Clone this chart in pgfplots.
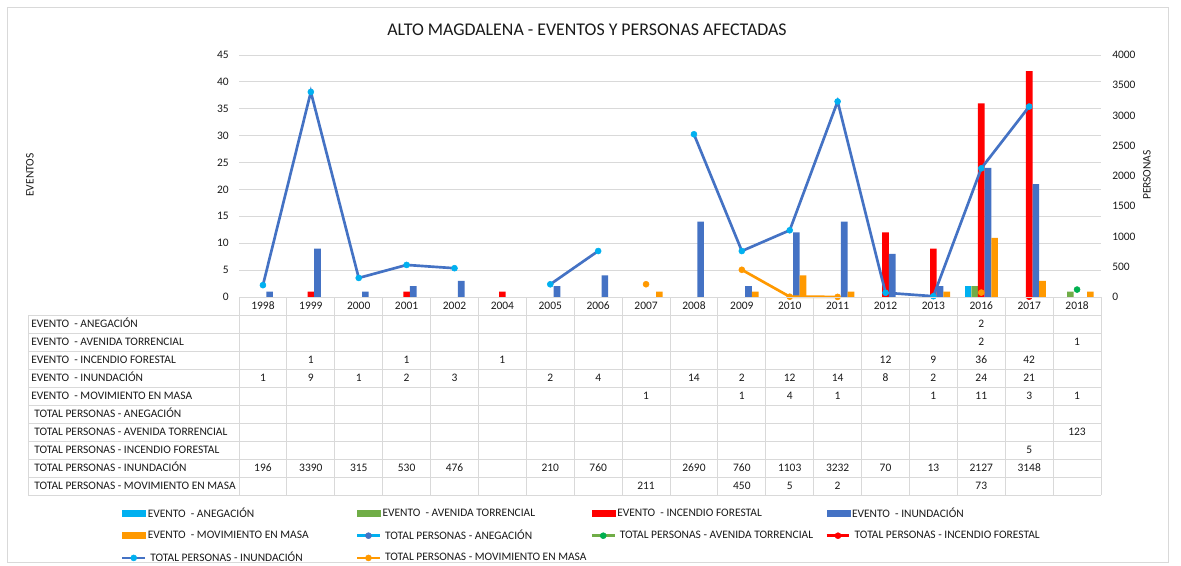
\documentclass[border=0pt]{standalone}
\usepackage{fontspec}
\setmainfont{Carlito}
\usepackage{pgfplots}
\pgfplotsset{compat=1.18}
\definecolor{cAneg}{HTML}{00B0F0}
\definecolor{cAven}{HTML}{70AD47}
\definecolor{cAvenM}{HTML}{00B050}
\definecolor{cInc}{HTML}{FF0000}
\definecolor{cInun}{HTML}{4472C4}
\definecolor{cMov}{HTML}{FF9900}
\definecolor{gridc}{HTML}{D9D9D9}
\definecolor{bordc}{HTML}{D9D9D9}
\definecolor{txt}{HTML}{1A1A1A}
\newcommand{\tf}{\fontsize{8.6}{10.3}\selectfont}
\pgfplotsset{barleg/.style={legend image code/.code={\fill[##1,draw=none] (0pt,-2.6pt) rectangle (18pt,2.6pt);}}}
\begin{document}
\begin{tikzpicture}
\begin{scope}[x=0.75pt,y=-0.75pt]
\useasboundingbox (0,0) rectangle (1181,565);
\fill[white] (0,0) rectangle (1181,565);
\draw[bordc, line width=0.75pt] (7,8) rectangle (1168,562);
\end{scope}

\begin{axis}[
  at={(179.25pt,-222.75pt)}, anchor=south west, scale only axis,
  width=646.5pt, height=181.5pt,
  xmin=-0.5, xmax=17.5, ymin=0, ymax=45, ytick={0,5,...,45}, xtick=\empty,
  ymajorgrids, grid style={gridc, line width=0.75pt},
  axis line style={draw=none}, major tick length=0pt,
  ybar=0pt, bar width=5pt,
  yticklabel style={font=\tf, text=txt, inner sep=0pt, xshift=-7.5pt},
  /pgf/number format/assume math mode=true,
  clip=false]
\addplot[fill=cAneg, draw=none] coordinates {(15,2)};
\addplot[fill=cAven, draw=none] coordinates {(15,2)(17,1)};
\addplot[fill=cInc, draw=none] coordinates {(1,1)(3,1)(5,1)(13,12)(14,9)(15,36)(16,42)};
\addplot[fill=cInun, draw=none] coordinates {(0,1)(1,9)(2,1)(3,2)(4,3)(6,2)(7,4)(9,14)(10,2)(11,12)(12,14)(13,8)(14,2)(15,24)(16,21)};
\addplot[fill=cMov, draw=none] coordinates {(8,1)(10,1)(11,4)(12,1)(14,1)(15,11)(16,3)(17,1)};
\end{axis}

\begin{axis}[
  at={(179.25pt,-222.75pt)}, anchor=south west, scale only axis,
  width=646.5pt, height=181.5pt,
  xmin=-0.5, xmax=17.5, ymin=0, ymax=4000, ytick={0,500,...,4000},
  axis y line*=right, hide x axis, axis line style={draw=none}, major tick length=0pt,
  yticklabel style={font=\tf, text=txt, inner sep=0pt, xshift=8.25pt,
    /pgf/number format/set thousands separator={}},
  /pgf/number format/assume math mode=true,
  unbounded coords=jump, clip=false,
  legend columns=4, legend cell align=left,
  legend style={at={(axis description cs:-0.1369,-0.865)}, anchor=north west,
    draw=none, fill=none, inner sep=0pt, outer sep=0pt, font=\tf, text=txt,
    row sep=6pt, nodes={inner sep=1pt},
    /tikz/every even column/.append style={column sep=0pt}}]
\addplot[forget plot, cInun, line width=2pt, mark=*, mark size=2.25pt,
  mark options={solid, draw=cAneg, fill=cAneg, line width=0.4pt}]
  coordinates {(0,196)(1,3390)(2,315)(3,530)(4,476)(5,nan)(6,210)(7,760)(8,nan)(9,2690)(10,760)(11,1103)(12,3232)(13,70)(14,13)(15,2127)(16,3148)};
\addplot[forget plot, cMov, line width=2pt, mark=*, mark size=2.25pt,
  mark options={solid, draw=cMov, fill=cMov, line width=0.4pt}]
  coordinates {(8,211)(9,nan)(10,450)(11,5)(12,2)(13,nan)(15,73)};
\addplot[forget plot, cAven, line width=2pt, mark=*, mark size=2.25pt,
  mark options={solid, draw=cAvenM, fill=cAvenM, line width=0.4pt}]
  coordinates {(17,123)};
\addplot[forget plot, cInc, line width=2pt, mark=*, mark size=2.25pt,
  mark options={solid, draw=cInc, fill=cInc, line width=0.4pt}]
  coordinates {(16,5)};

\addlegendimage{barleg, fill=cAneg}
\addlegendentry{\makebox[155pt][l]{EVENTO~ - ANEGACIÓN}}
\addlegendimage{barleg, fill=cAven}
\addlegendentry{\makebox[155pt][l]{EVENTO~ - AVENIDA TORRENCIAL}}
\addlegendimage{barleg, fill=cInc}
\addlegendentry{\makebox[155pt][l]{EVENTO~ - INCENDIO FORESTAL}}
\addlegendimage{barleg, fill=cInun}
\addlegendentry{\makebox[155pt][l]{EVENTO~ - INUNDACIÓN}}
\addlegendimage{barleg, fill=cMov}
\addlegendentry{\makebox[155pt][l]{EVENTO~ - MOVIMIENTO EN MASA}}
\addlegendimage{cAneg, line width=2pt, mark=*, mark size=2.25pt, mark options={solid, draw=cInun, fill=cInun, line width=0.4pt}}
\addlegendentry{\makebox[155pt][l]{\hspace{2pt}TOTAL PERSONAS - ANEGACIÓN}}
\addlegendimage{cAven, line width=2pt, mark=*, mark size=2.25pt, mark options={solid, draw=cAvenM, fill=cAvenM, line width=0.4pt}}
\addlegendentry{\makebox[155pt][l]{\hspace{2pt}TOTAL PERSONAS - AVENIDA TORRENCIAL}}
\addlegendimage{cInc, line width=2pt, mark=*, mark size=2.25pt, mark options={solid, draw=cInc, fill=cInc, line width=0.4pt}}
\addlegendentry{\makebox[155pt][l]{\hspace{2pt}TOTAL PERSONAS - INCENDIO FORESTAL}}
\addlegendimage{cInun, line width=2pt, mark=*, mark size=2.25pt, mark options={solid, draw=cAneg, fill=cAneg, line width=0.4pt}}
\addlegendentry{\makebox[155pt][l]{\hspace{2pt}TOTAL PERSONAS - INUNDACIÓN}}
\addlegendimage{cMov, line width=2pt, mark=*, mark size=2.25pt, mark options={solid, draw=cMov, fill=cMov, line width=0.4pt}}
\addlegendentry{\makebox[155pt][l]{\hspace{2pt}TOTAL PERSONAS - MOVIMIENTO EN MASA}}
\end{axis}

\begin{scope}[x=0.75pt,y=-0.75pt, font=\tf, text=txt]
\draw[gridc, line width=0.75pt] (239,297) -- (1101,297);
\foreach \k in {0,...,10} \draw[gridc, line width=0.75pt] (28,{315+18*\k}) -- (1101,{315+18*\k});
\foreach \j in {0,...,18} \draw[gridc, line width=0.75pt] ({239+47.889*\j},297) -- ({239+47.889*\j},495);
\draw[gridc, line width=0.75pt] (28,315) -- (28,495);
\foreach \y [count=\i from 0] in {1998,1999,2000,2001,2002,2004,2005,2006,2007,2008,2009,2010,2011,2012,2013,2016,2017,2018}
  \node[anchor=base, inner sep=0pt] at ({239+47.889*(\i+0.5)},309.7) {\y};
\foreach \t [count=\k from 0] in {EVENTO~ - ANEGACIÓN,EVENTO~ - AVENIDA TORRENCIAL,EVENTO~ - INCENDIO FORESTAL,EVENTO~ - INUNDACIÓN,EVENTO~ - MOVIMIENTO EN MASA}
  \node[anchor=base west, inner sep=0pt] at (31,{327.7+18*\k}) {\t};
\foreach \t [count=\k from 5] in {TOTAL PERSONAS - ANEGACIÓN,TOTAL PERSONAS - AVENIDA TORRENCIAL,TOTAL PERSONAS - INCENDIO FORESTAL,TOTAL PERSONAS - INUNDACIÓN,TOTAL PERSONAS - MOVIMIENTO EN MASA}
  \node[anchor=base west, inner sep=0pt] at (34,{327.7+18*\k}) {\t};
% row 0
\foreach \c/\v in {15/2}
  \node[anchor=base, inner sep=0pt] at ({239+47.889*(\c+0.5)},327.7) {\v};
% row 1
\foreach \c/\v in {15/2,17/1}
  \node[anchor=base, inner sep=0pt] at ({239+47.889*(\c+0.5)},345.7) {\v};
% row 2
\foreach \c/\v in {1/1,3/1,5/1,13/12,14/9,15/36,16/42}
  \node[anchor=base, inner sep=0pt] at ({239+47.889*(\c+0.5)},363.7) {\v};
% row 3
\foreach \c/\v in {0/1,1/9,2/1,3/2,4/3,6/2,7/4,9/14,10/2,11/12,12/14,13/8,14/2,15/24,16/21}
  \node[anchor=base, inner sep=0pt] at ({239+47.889*(\c+0.5)},381.7) {\v};
% row 4
\foreach \c/\v in {8/1,10/1,11/4,12/1,14/1,15/11,16/3,17/1}
  \node[anchor=base, inner sep=0pt] at ({239+47.889*(\c+0.5)},399.7) {\v};
% row 6
\foreach \c/\v in {17/123}
  \node[anchor=base, inner sep=0pt] at ({239+47.889*(\c+0.5)},435.7) {\v};
% row 7
\foreach \c/\v in {16/5}
  \node[anchor=base, inner sep=0pt] at ({239+47.889*(\c+0.5)},453.7) {\v};
% row 8
\foreach \c/\v in {0/196,1/3390,2/315,3/530,4/476,6/210,7/760,9/2690,10/760,11/1103,12/3232,13/70,14/13,15/2127,16/3148}
  \node[anchor=base, inner sep=0pt] at ({239+47.889*(\c+0.5)},471.7) {\v};
% row 9
\foreach \c/\v in {8/211,10/450,11/5,12/2,15/73}
  \node[anchor=base, inner sep=0pt] at ({239+47.889*(\c+0.5)},489.7) {\v};
\node[font=\fontsize{13.4}{16}\selectfont, text=txt] at (587,30) {ALTO MAGDALENA - EVENTOS Y PERSONAS AFECTADAS};
\node[rotate=90] at (30,175) {EVENTOS};
\node[rotate=90] at (1147,175) {PERSONAS};
\end{scope}
\end{tikzpicture}
\end{document}
